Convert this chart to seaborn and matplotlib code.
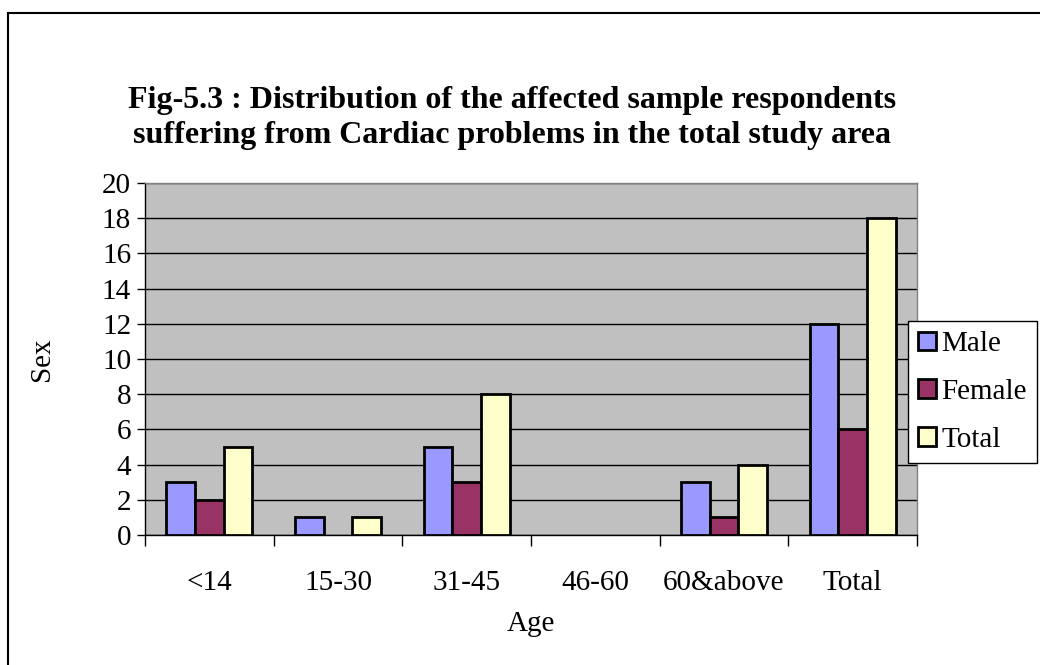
import matplotlib
matplotlib.use('Agg')
import matplotlib.pyplot as plt
import matplotlib.patches as mpatches
import numpy as np
import pandas as pd
import seaborn as sns

# Chart data
age_groups = ['<14', '15-30', '31-45', '46-60', '60&above', 'Total']
male = [3, 1, 5, 0, 3, 12]
female = [2, 0, 3, 0, 1, 6]
total = [5, 1, 8, 0, 4, 18]
series_names = ['Male', 'Female', 'Total']
series_colors = ['#9999FF', '#993366', '#FFFFCC']

df = pd.DataFrame({
    'Age': age_groups * 3,
    'Count': male + female + total,
    'Series': [s for s in series_names for _ in age_groups],
})

sns.set_style('white')
plt.rcParams['font.family'] = ['Liberation Serif', 'DejaVu Serif']
for key in ['text.color', 'axes.labelcolor', 'xtick.color', 'ytick.color']:
    plt.rcParams[key] = 'black'

fig = plt.figure(figsize=(10.4, 6.65), dpi=100)
ax = fig.add_axes([145 / 1040, 1 - 535 / 665, 772 / 1040, 352 / 665])

# outer chart frame
fig.patches.append(mpatches.Rectangle((8 / 1040, -0.05), 1.1, 1 - 13 / 665 + 0.05,
                                      transform=fig.transFigure, fill=False,
                                      edgecolor='black', linewidth=1.5, zorder=0))

ax.set_facecolor('#C0C0C0')
sns.barplot(data=df, x='Age', y='Count', hue='Series', order=age_groups,
            hue_order=series_names, palette=series_colors, width=0.67,
            saturation=1, edgecolor='black', linewidth=2, ax=ax, zorder=3)

# empty bars are not drawn in the original
for container in ax.containers:
    for bar in container:
        if bar.get_height() == 0:
            bar.set_visible(False)

ax.set_ylim(0, 20)
ax.set_xlim(-0.5, len(age_groups) - 0.5)
ax.set_yticks(np.arange(0, 21, 2))
ax.yaxis.grid(True, color='black', linewidth=1)
ax.set_axisbelow(True)

# x ticks between categories, labels centered
ax.set_xticks(np.arange(len(age_groups)))
ax.set_xticklabels(age_groups)
ax.set_xticks(np.arange(-0.5, len(age_groups)), minor=True)
ax.tick_params(axis='x', which='major', length=0, pad=25, labelsize=21)
ax.tick_params(axis='x', which='minor', length=8, width=1, color='black', direction='out')
ax.tick_params(axis='y', length=6, width=1, color='black', direction='out', labelsize=21, pad=4)
ax.tick_params(bottom=True, left=True, which='both')

for side in ['top', 'right']:
    ax.spines[side].set_color('#808080')
    ax.spines[side].set_linewidth(1)
for side in ['left', 'bottom']:
    ax.spines[side].set_color('black')
    ax.spines[side].set_linewidth(1)

ax.set_xlabel('Age', fontsize=21, labelpad=11)
ax.set_ylabel('Sex', fontsize=21, labelpad=34)

fig.text(512 / 1040, 1 - 118 / 665,
         'Fig-5.3 : Distribution of the affected sample respondents\n'
         'suffering from Cardiac problems in the total study area',
         ha='center', va='center', fontsize=23, fontweight='bold', linespacing=1.3)

ax.legend(loc='center left', bbox_to_anchor=(908 / 1040, 1 - 392 / 665),
          bbox_transform=fig.transFigure, title=None, fontsize=21,
          frameon=True, fancybox=False, framealpha=1, edgecolor='black',
          handlelength=0.6, handleheight=0.6, handletextpad=0.2,
          labelspacing=0.75, borderpad=0.35, borderaxespad=0)
ax.get_legend().get_frame().set_linewidth(1)

fig.savefig('out.png', dpi=100)
